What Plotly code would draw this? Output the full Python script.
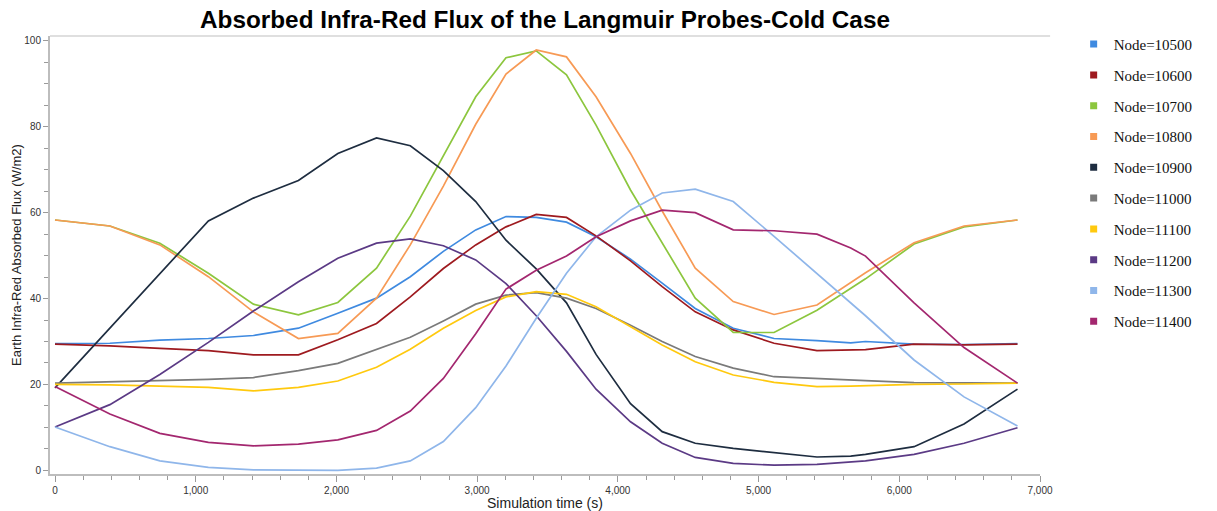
import plotly.graph_objects as go

times = [0, 390, 745, 1090, 1410, 1730, 2010, 2285, 2525, 2760, 2990, 3205, 3420,
         3635, 3845, 4090, 4315, 4550, 4820, 5110, 5415, 5655, 5760, 6105, 6460, 6840]

node_10500 = [29.5, 29.6, 30.3, 30.7, 31.4, 33.1, 36.6, 40.1, 45.1, 51.0, 56.0, 59.1, 58.9,
              57.8, 54.4, 49.2, 43.6, 37.7, 33.1, 30.7, 30.2, 29.7, 30.0, 29.4, 29.3, 29.5]
node_10600 = [29.4, 29.0, 28.4, 27.9, 26.9, 26.9, 30.4, 34.2, 40.4, 47.0, 52.5, 56.7, 59.6,
              58.9, 54.6, 48.8, 42.8, 36.9, 32.7, 29.6, 27.9, 28.0, 28.1, 29.4, 29.2, 29.4]
node_10700 = [58.3, 56.9, 52.9, 45.9, 38.7, 36.2, 39.1, 47.1, 59.2, 73.4, 87.0, 96.1, 97.7,
              92.1, 80.4, 65.3, 52.9, 40.1, 32.1, 32.1, 37.3, 42.5, 44.6, 52.7, 56.7, 58.3]
node_10800 = [58.3, 56.9, 52.5, 45.1, 36.9, 30.7, 31.9, 40.1, 52.5, 66.2, 80.6, 92.3, 97.9,
              96.3, 87.0, 73.8, 60.4, 47.1, 39.3, 36.3, 38.5, 43.8, 46.0, 53.0, 56.9, 58.3]
node_10900 = [19.2, 33.2, 45.9, 58.1, 63.4, 67.5, 73.8, 77.4, 75.6, 69.8, 62.6, 53.6, 46.9,
              39.0, 27.0, 15.5, 9.0, 6.3, 5.1, 4.2, 3.1, 3.3, 3.7, 5.5, 10.8, 18.9]
node_11000 = [20.3, 20.6, 20.8, 21.2, 21.6, 23.2, 24.9, 28.2, 31.0, 34.8, 38.7, 40.8, 41.4,
              40.1, 37.7, 33.8, 30.0, 26.5, 23.8, 21.8, 21.3, 21.0, 20.9, 20.4, 20.3, 20.3]
node_11100 = [20.0, 19.9, 19.6, 19.3, 18.5, 19.3, 20.8, 24.0, 28.2, 33.1, 37.2, 40.4, 41.6,
              41.0, 38.1, 33.4, 29.2, 25.3, 22.2, 20.5, 19.5, 19.6, 19.7, 20.0, 20.1, 20.3]
node_11200 = [10.1, 15.3, 22.3, 29.8, 37.1, 43.9, 49.4, 52.9, 53.9, 52.3, 49.0, 43.5, 36.0,
              27.7, 18.9, 11.3, 6.3, 3.0, 1.6, 1.2, 1.4, 1.9, 2.2, 3.7, 6.3, 9.9]
node_11300 = [10.1, 5.5, 2.2, 0.7, 0.1, 0.0, 0.0, 0.5, 2.2, 6.7, 14.6, 24.3, 35.4,
              45.9, 54.4, 60.6, 64.6, 65.5, 62.6, 54.5, 45.8, 39.0, 36.0, 25.7, 17.1, 10.3]
node_11400 = [19.5, 13.1, 8.6, 6.5, 5.7, 6.1, 7.1, 9.3, 13.8, 21.4, 31.8, 42.2, 46.6,
              49.9, 54.4, 58.1, 60.6, 60.0, 56.0, 55.8, 55.0, 51.8, 49.9, 39.0, 28.6, 20.3]

series_names = ["Node=10500", "Node=10600", "Node=10700", "Node=10800", "Node=10900",
                "Node=11000", "Node=11100", "Node=11200", "Node=11300", "Node=11400"]
series_values = [node_10500, node_10600, node_10700, node_10800, node_10900,
                 node_11000, node_11100, node_11200, node_11300, node_11400]
colors = ["#3f8ae0", "#9e1a1f", "#8cc63e", "#f79a55", "#1e2d40",
          "#7a7a7a", "#ffc90e", "#5b3a85", "#8fb6ea", "#a3276f"]

fig = go.Figure()
for name, vals, col in zip(series_names, series_values, colors):
    fig.add_trace(go.Scatter(x=times, y=vals, mode="lines", name=name,
                             line=dict(color=col, width=1.7),
                             showlegend=False, legendgroup=name))
# legend entries with square swatches
for name, col in zip(series_names, colors):
    fig.add_trace(go.Scatter(x=[None], y=[None], mode="markers", name=name,
                             marker=dict(symbol="square", size=7, color=col),
                             showlegend=True, legendgroup=name))

fig.update_layout(
    width=1217, height=511,
    margin=dict(l=50, r=177, t=36, b=37, autoexpand=False),
    plot_bgcolor="white", paper_bgcolor="white",
    title=dict(text="<b>Absorbed Infra-Red Flux of the Langmuir Probes-Cold Case</b>",
               x=0.5, xref="paper", xanchor="center", y=0.961, yref="container",
               yanchor="middle", automargin=False,
               font=dict(family="Liberation Sans, Arial", size=24.3, color="black")),
    legend=dict(x=1.034, xanchor="left", y=1.0186, yanchor="top",
                font=dict(family="Liberation Serif, Times New Roman", size=15, color="#111"),
                tracegroupgap=8.3, itemwidth=30, maxheight=1000,
                bgcolor="rgba(0,0,0,0)"),
    shapes=[dict(type="line", xref="paper", yref="paper", x0=0, x1=1.0102, y0=1, y1=1,
                 line=dict(color="#d4d4d4", width=1.5))],
)

fig.update_xaxes(
    range=[-35.5, 7000], showgrid=False, zeroline=False, automargin=False,
    showline=True, linecolor="#bdbdbd", linewidth=2,
    tickmode="linear", tick0=0, dtick=1000, tickformat=",d",
    ticks="outside", ticklen=6, tickcolor="#9a9a9a", tickwidth=1,
    minor=dict(ticks="outside", dtick=200, ticklen=4, tickcolor="#9a9a9a"),
    tickfont=dict(family="Liberation Sans, Arial", size=10, color="#333"),
    title=dict(text="Simulation time (s)", standoff=6,
               font=dict(family="Liberation Sans, Arial", size=14, color="#222")),
)
fig.update_yaxes(
    range=[-0.86, 101.16], showgrid=False, zeroline=False, automargin=False,
    showline=True, linecolor="#bdbdbd", linewidth=2,
    tickmode="linear", tick0=0, dtick=20,
    ticks="outside", ticklen=5, tickcolor="#9a9a9a", tickwidth=1,
    minor=dict(ticks="outside", dtick=5, ticklen=4, tickcolor="#9a9a9a"),
    tickfont=dict(family="Liberation Sans, Arial", size=10, color="#333"),
    title=dict(text="Earth Infra-Red Absorbed Flux (W/m2)", standoff=0,
               font=dict(family="Liberation Sans, Arial", size=13, color="#222")),
)

fig.write_html(
    "out.html",
    config={"displayModeBar": False},
    post_script="document.body.style.margin='0';document.body.style.padding='0';"
                "window.dispatchEvent(new Event('resize'));",
)
